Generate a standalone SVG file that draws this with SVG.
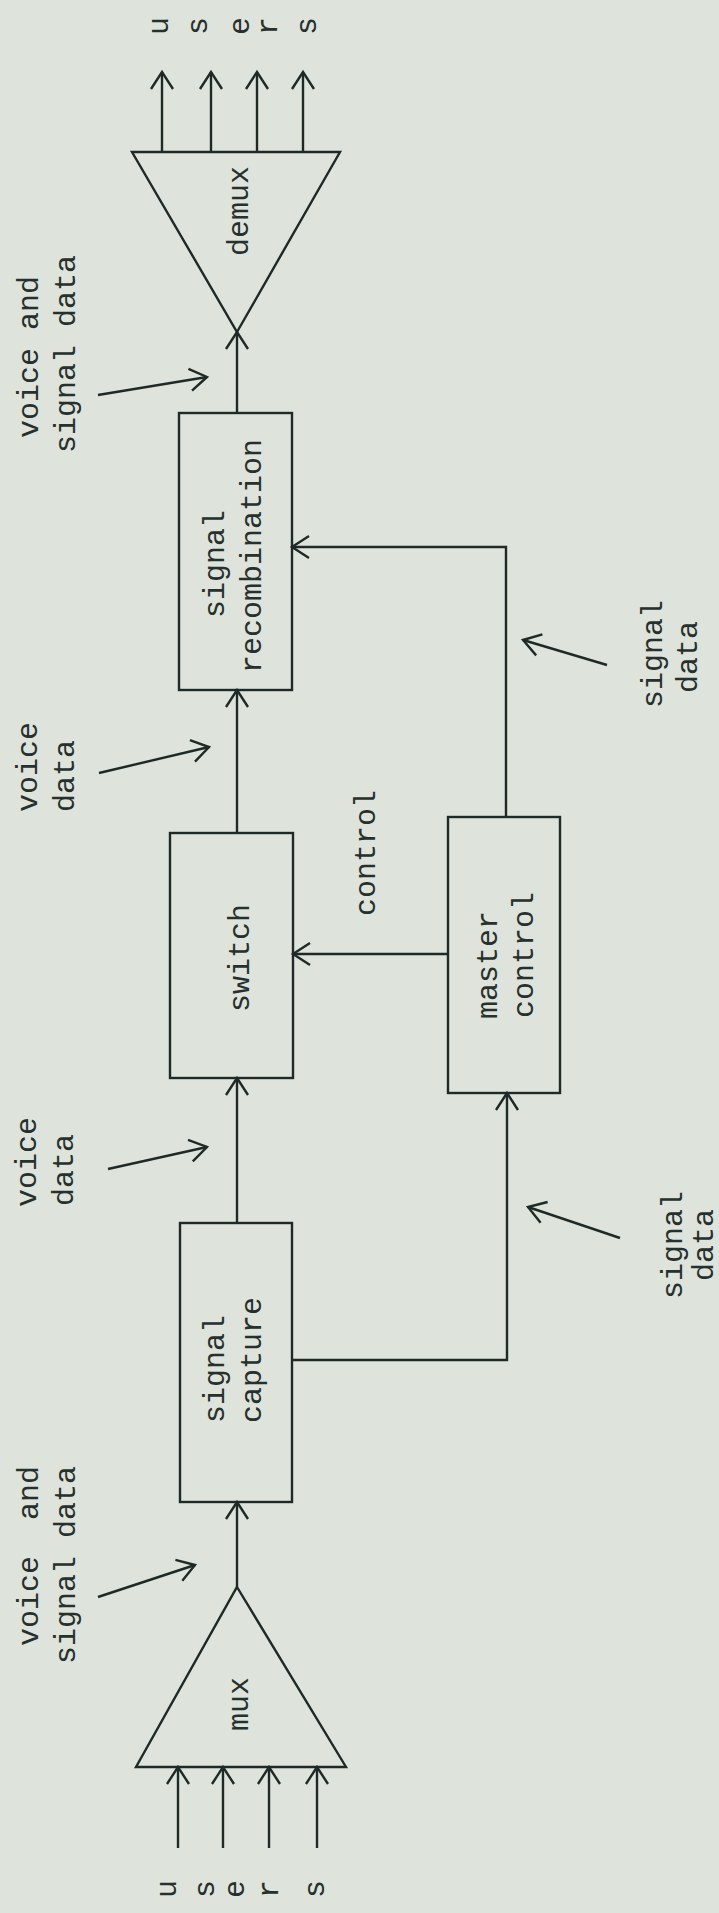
<svg xmlns="http://www.w3.org/2000/svg" width="719" height="1913" viewBox="0 0 719 1913">
<defs>
<style>
.ln{fill:none;stroke:#1f2a26;stroke-width:2.4;stroke-linejoin:miter}
.bx{fill:none;stroke:#1f2a26;stroke-width:2.4}
.t{font-family:"Liberation Mono","Courier New",monospace;font-size:30px;fill:#26302c}
</style>
<marker id="ah" markerUnits="userSpaceOnUse" viewBox="-20 -20 40 40" markerWidth="40" markerHeight="40" refX="0" refY="0" orient="auto" overflow="visible">
<path d="M-17,-11 L0,0 L-17,11" fill="none" stroke="#1f2a26" stroke-width="2.4"/>
</marker>
</defs>
<rect x="0" y="0" width="719" height="1913" fill="#dee3dc"/>

<g id="mux">
<path class="ln" d="M237,1587 L346,1767 L136,1767 Z"/>
<text class="t" transform="translate(248,1731) rotate(-90)">mux</text>
</g>
<g id="signal-capture">
<rect class="bx" x="180" y="1223" width="112" height="279"/>
<text class="t" transform="translate(224,1423) rotate(-90)">signal</text>
<text class="t" transform="translate(261,1423) rotate(-90)">capture</text>
</g>
<g id="switch">
<rect class="bx" x="170" y="833" width="123" height="245"/>
<text class="t" transform="translate(249,1012) rotate(-90)">switch</text>
</g>
<g id="master-control">
<rect class="bx" x="448" y="817" width="112" height="276"/>
<text class="t" transform="translate(497,1019) rotate(-90)">master</text>
<text class="t" transform="translate(533,1018) rotate(-90)">control</text>
</g>
<g id="signal-recombination">
<rect class="bx" x="179" y="413" width="113" height="277"/>
<text class="t" transform="translate(224,618) rotate(-90)">signal</text>
<text class="t" transform="translate(261,673) rotate(-90)">recombination</text>
</g>
<g id="demux">
<path class="ln" d="M237,332 L340,152 L132,152 Z"/>
<text class="t" transform="translate(248,256) rotate(-90)">demux</text>
</g>

<g id="users-in">
<text class="t" transform="translate(175.5,1898) rotate(-90)">u</text>
<text class="t" transform="translate(213.5,1898) rotate(-90)">s</text>
<text class="t" transform="translate(243.5,1898) rotate(-90)">e</text>
<text class="t" transform="translate(277.5,1898) rotate(-90)">r</text>
<text class="t" transform="translate(323.5,1898) rotate(-90)">s</text>
</g>
<g id="users-out">
<text class="t" transform="translate(167.5,35) rotate(-90)">u</text>
<text class="t" transform="translate(206.5,35) rotate(-90)">s</text>
<text class="t" transform="translate(248.5,35) rotate(-90)">e</text>
<text class="t" transform="translate(276.5,35) rotate(-90)">r</text>
<text class="t" transform="translate(315.5,35) rotate(-90)">s</text>
</g>

<g id="labels">
<text class="t" transform="translate(38,1646) rotate(-90)">voice<tspan x="126">and</tspan></text>
<text class="t" transform="translate(75,1664) rotate(-90)">signal data</text>
<text class="t" transform="translate(36,1207) rotate(-90)">voice</text>
<text class="t" transform="translate(73,1206) rotate(-90)">data</text>
<text class="t" transform="translate(37,812) rotate(-90)">voice</text>
<text class="t" transform="translate(74,812) rotate(-90)">data</text>
<text class="t" transform="translate(38,438) rotate(-90)">voice and</text>
<text class="t" transform="translate(75,453) rotate(-90)">signal data</text>
<text class="t" transform="translate(375,916) rotate(-90)">control</text>
<text class="t" transform="translate(662,708) rotate(-90)">signal</text>
<text class="t" transform="translate(697,693) rotate(-90)">data</text>
<text class="t" transform="translate(682,1299) rotate(-90)">signal</text>
<text class="t" transform="translate(713,1281) rotate(-90)">data</text>
</g>

<g id="connectors">
<line class="ln" x1="178" y1="1848" x2="178" y2="1767" marker-end="url(#ah)"/>
<line class="ln" x1="223" y1="1848" x2="223" y2="1767" marker-end="url(#ah)"/>
<line class="ln" x1="269" y1="1848" x2="269" y2="1767" marker-end="url(#ah)"/>
<line class="ln" x1="317" y1="1848" x2="317" y2="1767" marker-end="url(#ah)"/>
<line class="ln" x1="237" y1="1587" x2="237" y2="1502" marker-end="url(#ah)"/>
<line class="ln" x1="237" y1="1223" x2="237" y2="1078" marker-end="url(#ah)"/>
<line class="ln" x1="237" y1="833" x2="237" y2="690" marker-end="url(#ah)"/>
<line class="ln" x1="237" y1="413" x2="237" y2="332" marker-end="url(#ah)"/>
<path class="ln" d="M292,1360 L507,1360 L507,1093" marker-end="url(#ah)"/>
<path class="ln" d="M506,817 L506,547 L292,547" marker-end="url(#ah)"/>
<line class="ln" x1="448" y1="954" x2="293" y2="954" marker-end="url(#ah)"/>
<line class="ln" x1="162" y1="152" x2="162" y2="72" marker-end="url(#ah)"/>
<line class="ln" x1="211" y1="152" x2="211" y2="72" marker-end="url(#ah)"/>
<line class="ln" x1="257" y1="152" x2="257" y2="72" marker-end="url(#ah)"/>
<line class="ln" x1="303" y1="152" x2="303" y2="72" marker-end="url(#ah)"/>
<line class="ln" x1="98" y1="1597" x2="195" y2="1565" marker-end="url(#ah)"/>
<line class="ln" x1="108" y1="1169" x2="207" y2="1147" marker-end="url(#ah)"/>
<line class="ln" x1="99" y1="773" x2="209" y2="747" marker-end="url(#ah)"/>
<line class="ln" x1="98" y1="395" x2="207" y2="377" marker-end="url(#ah)"/>
<line class="ln" x1="607" y1="665" x2="523" y2="640" marker-end="url(#ah)"/>
<line class="ln" x1="620" y1="1238" x2="528" y2="1207" marker-end="url(#ah)"/>
</g>
</svg>
